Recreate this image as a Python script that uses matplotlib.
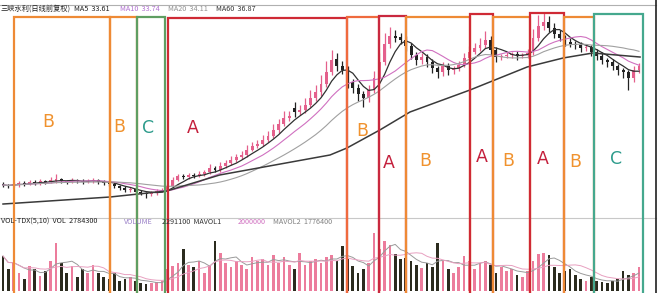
import numpy as np
import pandas as pd
import matplotlib
matplotlib.use('Agg')
import matplotlib.pyplot as plt

plt.rcParams['font.family'] = ['Noto Sans CJK SC', 'DejaVu Sans']

# daily candles
opens = [12.67, 12.50, 12.33, 12.60, 12.90, 12.70, 13.05, 12.85, 13.20, 13.00,
         13.20, 13.45, 13.20, 13.00, 13.35, 13.20, 13.00, 13.15, 13.35, 13.00,
         12.85, 12.70, 12.35, 12.00, 11.65, 11.85, 11.35, 11.20, 11.00, 11.20,
         11.50, 11.70, 12.40, 13.40, 14.05, 13.80, 14.20, 14.00, 14.30, 14.70,
         15.35, 15.00, 15.70, 16.20, 16.70, 17.20, 17.50, 18.40, 19.00, 19.35,
         20.05, 20.70, 21.70, 22.70, 23.70, 25.30, 24.60, 25.00, 25.90, 27.00,
         28.00, 29.40, 31.40, 33.50, 32.40, 31.80, 29.70, 28.70, 27.70, 27.00,
         28.40, 30.40, 33.00, 36.00, 37.40, 37.10, 36.70, 35.70, 34.20, 33.30,
         33.90, 33.00, 32.00, 31.30, 32.40, 31.60, 32.00, 32.50, 33.70, 34.70,
         35.40, 35.80, 36.70, 35.00, 33.80, 34.00, 34.10, 34.40, 34.00, 34.20,
         34.60, 37.00, 39.00, 39.70, 38.70, 37.70, 37.00, 36.40, 36.00, 35.90,
         35.30, 35.50, 34.70, 34.00, 33.30, 33.00, 32.30, 31.70, 31.30, 30.40,
         31.60]
closes = [12.50, 12.33, 12.67, 12.83, 12.67, 13.00, 12.83, 13.17, 13.00, 13.33,
          13.50, 13.17, 13.00, 13.33, 13.17, 13.00, 13.17, 13.33, 13.00, 12.83,
          12.67, 12.33, 12.00, 11.67, 11.83, 11.33, 11.17, 11.00, 11.17, 11.50,
          11.67, 12.33, 13.33, 14.00, 13.83, 14.17, 14.00, 14.33, 14.67, 15.33,
          15.00, 15.67, 16.17, 16.67, 17.17, 17.50, 18.33, 19.00, 19.33, 20.00,
          20.67, 21.67, 22.67, 23.67, 24.00, 24.67, 25.00, 25.83, 27.00, 28.00,
          29.33, 31.33, 33.33, 32.33, 31.67, 29.67, 28.67, 27.67, 27.00, 28.33,
          30.33, 33.00, 36.00, 37.33, 37.00, 36.67, 35.67, 34.17, 33.33, 33.83,
          33.00, 32.00, 31.33, 32.33, 31.67, 32.00, 32.50, 33.67, 34.67, 35.33,
          35.83, 36.67, 35.00, 33.83, 34.00, 34.17, 34.33, 34.00, 34.17, 34.50,
          37.00, 39.00, 39.67, 38.67, 37.67, 37.00, 36.33, 36.00, 35.83, 35.33,
          35.50, 34.67, 34.00, 33.33, 33.00, 32.33, 31.67, 31.33, 30.33, 31.67,
          32.33]
upper_shadow = [0.3, 0.2, 0.4, 0.3, 0.2, 0.4, 0.3, 0.3, 0.2, 0.5,
                0.8, 0.3, 0.2, 0.3, 0.2, 0.3, 0.4, 0.3, 0.2, 0.3,
                0.2, 0.3, 0.2, 0.3, 0.4, 0.2, 0.3, 0.2, 0.3, 0.3,
                0.4, 0.3, 0.5, 0.4, 0.3, 0.4, 0.3, 0.5, 0.4, 0.6,
                0.4, 0.6, 0.5, 0.7, 0.5, 0.6, 0.8, 0.7, 0.6, 0.9,
                0.8, 1.0, 0.9, 1.2, 0.8, 1.0, 0.9, 1.1, 1.3, 1.2,
                1.5, 1.8, 1.6, 1.0, 0.8, 0.6, 0.5, 0.6, 0.4, 0.8,
                1.2, 1.5, 1.8, 1.5, 1.0, 0.8, 0.6, 0.5, 0.5, 0.7,
                0.4, 0.5, 0.4, 0.6, 0.5, 0.4, 0.6, 0.8, 1.0, 0.9,
                1.2, 1.5, 0.6, 0.5, 0.4, 0.5, 0.4, 0.5, 0.4, 0.6,
                1.5, 1.8, 1.5, 1.0, 0.8, 0.6, 0.5, 0.6, 0.5, 0.4,
                0.5, 0.4, 0.5, 0.6, 0.4, 0.5, 0.4, 0.3, 0.4, 0.6,
                0.5]
lower_shadow = [0.3, 0.3, 0.2, 0.4, 0.3, 0.2, 0.3, 0.3, 0.4, 0.2,
                0.3, 0.3, 0.4, 0.2, 0.3, 0.3, 0.2, 0.3, 0.4, 0.3,
                0.3, 0.4, 0.3, 0.4, 0.3, 0.5, 0.4, 0.6, 0.3, 0.3,
                0.2, 0.3, 0.2, 0.3, 0.4, 0.3, 0.3, 0.2, 0.3, 0.3,
                0.4, 0.3, 0.3, 0.4, 0.3, 0.3, 0.4, 0.3, 0.4, 0.3,
                0.4, 0.3, 0.5, 0.4, 0.6, 0.8, 0.4, 0.5, 0.4, 0.5,
                0.6, 0.5, 0.6, 0.8, 0.7, 1.0, 0.8, 1.2, 1.5, 0.6,
                0.5, 0.6, 0.5, 0.6, 0.7, 0.6, 0.8, 0.7, 0.8, 0.6,
                0.8, 0.9, 1.0, 0.6, 0.9, 0.6, 0.5, 0.4, 0.5, 0.4,
                0.5, 0.4, 0.8, 0.9, 0.5, 0.4, 0.5, 0.6, 0.4, 0.5,
                0.4, 0.5, 0.6, 0.7, 0.6, 0.5, 0.6, 0.5, 0.6, 0.7,
                0.5, 0.6, 0.7, 0.6, 0.8, 0.7, 0.9, 1.0, 2.0, 0.8,
                0.5]
volumes = [35, 22, 28, 18, 12, 25, 22, 15, 20, 30,
           48, 28, 18, 25, 14, 22, 18, 26, 18, 14,
           12, 18, 10, 12, 14, 10, 8, 7, 8, 9,
           10, 22, 25, 28, 42, 26, 24, 30, 18, 26,
           50, 38, 28, 24, 30, 26, 22, 34, 30, 32,
           26, 36, 28, 34, 26, 22, 38, 26, 30, 32,
           28, 34, 36, 30, 45, 32, 25, 18, 22, 28,
           58, 42, 50, 46, 37, 32, 33, 30, 26, 23,
           28, 24, 48, 30, 22, 18, 24, 35, 30, 22,
           28, 30, 26, 18, 24, 20, 22, 16, 14, 20,
           30, 37, 38, 36, 24, 18, 20, 22, 16, 12,
           10, 14, 10, 9, 8, 10, 12, 20, 16, 18,
           24]

# long moving average line, read at a few points (candle index, price)
ma60_idx = [0, 20.2, 30.9, 40.9, 61.7, 64.9, 71.1, 76.8, 88.1, 98.9, 105.7, 111.3, 120.2]
ma60_val = [9.33, 10.5, 11.5, 14.17, 17.5, 18.67, 21.67, 24.67, 28.33, 32.17, 33.67, 34.5, 33.83]

# phase boxes: (left px, right px, top px, colour, letter, letter x, letter y)
boxes = [
    (14, 110, 17, '#ee8a35', 'B', 48, 122),
    (110, 137, 17, '#ee8a35', 'B', 119, 127),
    (137, 165, 17, '#5f9e62', 'C', 148, 128),
    (168, 347, 18, '#cf2a35', 'A', 193, 128),
    (347, 379, 17, '#ef6a3e', 'B', 362, 131),
    (379, 406, 16, '#c9283f', 'A', 389, 163),
    (406, 470, 17, '#ee8a35', 'B', 425, 161),
    (470, 493, 14, '#cf2a35', 'A', 482, 157),
    (493, 530, 17, '#ee8a35', 'B', 508, 161),
    (530, 564, 13, '#cf2a35', 'A', 543, 159),
    (564, 594, 17, '#ee8a35', 'B', 575, 162),
    (594, 643, 14, '#45a88e', 'C', 616, 159),
]
letter_colors = {'A': '#c4203c', 'B': '#f0922e', 'C': '#2e9c8c'}

W, H = 660, 293
o = np.array(opens)
c = np.array(closes)
hi = np.maximum(o, c) + np.array(upper_shadow)
lo = np.minimum(o, c) - np.array(lower_shadow)
n = len(c)
x = np.arange(n)
up = c >= o
up_col = '#e4608c'
dn_col = '#222222'
cols = np.where(up, up_col, dn_col)
vol_cols = np.where(up, '#ec7c9c', '#2b2b1e')

fig = plt.figure(figsize=(W / 100, H / 100), dpi=100)
fig.patch.set_facecolor('white')

xl = (-3 / 5.3, (656 - 3) / 5.3)

# price panel
ax = fig.add_axes([0, (H - 218) / H, 656 / W, 210 / H])
ax.vlines(x, lo, hi, colors=cols, linewidth=0.9)
body = np.maximum(np.abs(c - o), 0.12)
ax.bar(x, body, bottom=np.minimum(o, c), width=0.55, color=cols, linewidth=0)
s = pd.Series(c)
ax.plot(x, s.rolling(5, min_periods=1).mean(), color='#303030', lw=0.9)
ax.plot(x, s.rolling(10, min_periods=1).mean(), color='#d070c0', lw=0.8)
ax.plot(x, s.rolling(20, min_periods=1).mean(), color='#a0a0a0', lw=0.8)
ax.plot(ma60_idx, ma60_val, color='#3a3a3a', lw=1.1)
ax.set_xlim(*xl)
ax.set_ylim(7, 42)
ax.axis('off')

# volume panel
axv = fig.add_axes([0, 2 / H, 656 / W, 63 / H])
axv.bar(x, volumes, width=0.5, color=vol_cols, linewidth=0)
v = pd.Series(volumes, dtype=float)
axv.plot(x, v.rolling(5, min_periods=1).mean(), color='#9a9a9a', lw=0.7)
axv.plot(x, v.rolling(10, min_periods=1).mean(), color='#e8a0c0', lw=0.7)
axv.set_xlim(*xl)
axv.set_ylim(0, 63)
axv.axis('off')

# overlay in pixel coordinates for frame, headers and phase boxes
ov = fig.add_axes([0, 0, 1, 1])
ov.set_xlim(0, W)
ov.set_ylim(H, 0)
ov.axis('off')
ov.patch.set_alpha(0)

ov.plot([0, 656], [5, 5], color='#b0b0b0', lw=0.8)
ov.plot([0, 656], [218, 218], color='#c8c8c8', lw=0.8)
ov.plot([656, 656], [0, H], color='#202020', lw=1.2)

ov.text(1, 9, '三峡水利(日线前复权)', fontsize=5.2, color='#222222', va='center')
ov.text(74, 9, 'MA5  33.61', fontsize=5.2, color='#222222', va='center')
ov.text(120, 9, 'MA10  33.74', fontsize=5.2, color='#b070d0', va='center')
ov.text(168, 9, 'MA20  34.11', fontsize=5.2, color='#909090', va='center')
ov.text(216, 9, 'MA60  36.87', fontsize=5.2, color='#333333', va='center')

ov.text(1, 222, 'VOL-TDX(5,10)  VOL  2784300', fontsize=5.2, color='#222222', va='center')
ov.text(124, 222, 'VOLUME', fontsize=5.2, color='#9a80c8', va='center')
ov.text(162, 222, '2291100  MAVOL1', fontsize=5.2, color='#333333', va='center')
ov.text(238, 222, '2000000', fontsize=5.2, color='#d070c0', va='center')
ov.text(273, 222, 'MAVOL2  1776400', fontsize=5.2, color='#808080', va='center')

for x0, x1, top, col, letter, lx, ly in boxes:
    ov.plot([x0, x0, x1, x1], [H, top, top, H], color=col, lw=1.6,
            solid_joinstyle='miter')
    ov.text(lx, ly, letter, fontsize=12.5, color=letter_colors[letter],
            ha='center', va='center', family=['DejaVu Sans'])

fig.savefig('out.png', dpi=100)
